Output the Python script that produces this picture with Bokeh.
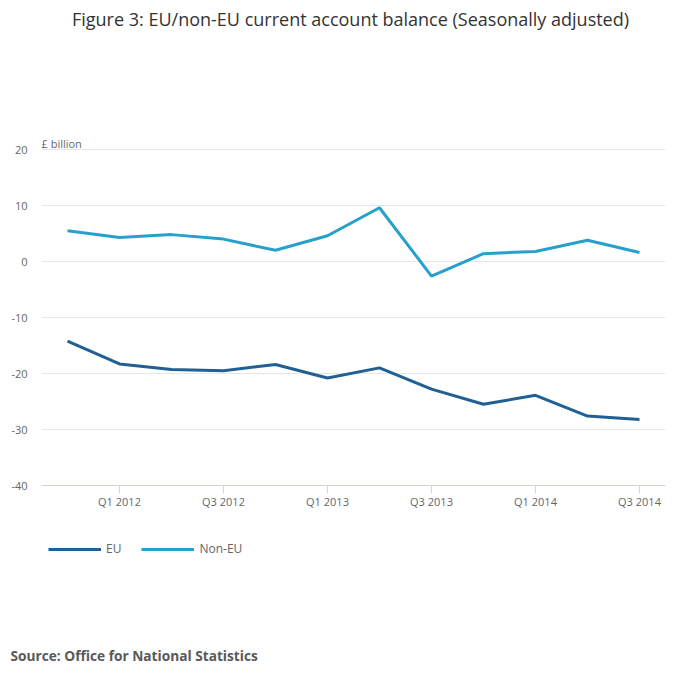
from bokeh.plotting import figure
from bokeh.models import FixedTicker, Label, Legend, LegendItem, Range1d
from bokeh.layouts import column
from bokeh.embed import file_html
from bokeh.resources import INLINE

quarters = ["Q4 2011", "Q1 2012", "Q2 2012", "Q3 2012", "Q4 2012", "Q1 2013",
            "Q2 2013", "Q3 2013", "Q4 2013", "Q1 2014", "Q2 2014", "Q3 2014"]
eu = [-14.2, -18.3, -19.3, -19.5, -18.4, -20.8, -19.0, -22.8, -25.5, -23.9, -27.6, -28.2]
non_eu = [5.5, 4.3, 4.8, 4.0, 2.0, 4.6, 9.6, -2.6, 1.4, 1.8, 3.8, 1.6]
y_ticks = [-40, -30, -20, -10, 0, 10, 20]
x_tick_idx = [1, 3, 5, 7, 9, 11]

title_text = "Figure 3: EU/non-EU current account balance (Seasonally adjusted)"
unit_text = "£ billion"
source_text = "Source: Office for National Statistics"

FONT = "Open Sans"
x = list(range(len(quarters)))

W = 684
H1 = 515
H2 = 151
BOT1 = 30
FRAME_H = H1 - BOT1
PX_PER_UNIT = 5.6
Y_MIN = -40
Y_MAX = Y_MIN + FRAME_H / PX_PER_UNIT
LEFT = 41
RIGHT = 19
X_MIN, X_MAX = -0.5, len(quarters) - 0.5
PX_PER_X = (W - LEFT - RIGHT) / (X_MAX - X_MIN)
TITLE_CX = 350


def no_align(fig):
    try:
        fig.frame_align = False
    except Exception:
        pass


p = figure(width=W, height=H1, output_backend="svg", toolbar_location=None, title=None,
           x_range=Range1d(X_MIN, X_MAX), y_range=Range1d(Y_MIN, Y_MAX),
           min_border_left=LEFT, min_border_right=RIGHT, min_border_top=0,
           min_border_bottom=BOT1)
p.outline_line_color = None
no_align(p)
if p.title is not None:
    p.title.text = ""
    p.title.standoff = 0
    p.title.visible = False

r_eu = p.line(x, eu, line_color="#206095", line_width=3)
r_non = p.line(x, non_eu, line_color="#27a0cc", line_width=3)

p.xgrid.grid_line_color = None
p.ygrid.grid_line_color = "#e6e6e6"
p.ygrid.ticker = FixedTicker(ticks=y_ticks)

p.yaxis.ticker = FixedTicker(ticks=y_ticks)
p.yaxis.major_label_overrides = {t: str(t) for t in y_ticks}
p.yaxis.axis_line_color = None
p.yaxis.major_tick_line_color = None
p.yaxis.minor_tick_line_color = None
p.yaxis.major_label_standoff = 8
p.yaxis.major_label_text_font = FONT
p.yaxis.major_label_text_font_size = "11px"
p.yaxis.major_label_text_color = "#666666"

p.xaxis.ticker = FixedTicker(ticks=x_tick_idx)
p.xaxis.major_label_overrides = {i: quarters[i] for i in x_tick_idx}
p.xaxis.axis_line_color = "#ccd6eb"
p.xaxis.major_tick_line_color = "#ccd6eb"
p.xaxis.major_tick_in = 0
p.xaxis.major_tick_out = 8
p.xaxis.minor_tick_line_color = None
p.xaxis.major_label_standoff = 0
p.xaxis.major_label_text_font = FONT
p.xaxis.major_label_text_font_size = "11px"
p.xaxis.major_label_text_color = "#666666"

# title: centred on the page, 18px from the top
title_x = X_MIN + (TITLE_CX - LEFT) / PX_PER_X
title_y = Y_MAX - 18 / PX_PER_UNIT
p.add_layout(Label(x=title_x, y=title_y, text=title_text, text_font=FONT,
                   text_font_size="18px", text_color="#333333",
                   text_align="center", text_baseline="middle"))
p.add_layout(Label(x=X_MIN, y=y_ticks[-1], y_offset=6, text=unit_text,
                   text_font=FONT, text_font_size="11px", text_color="#666666",
                   text_baseline="alphabetic", text_align="left"))

# lower panel: legend and source
p2 = figure(width=W, height=H2, output_backend="svg", toolbar_location=None, title=None,
            x_range=Range1d(0, W), y_range=Range1d(0, H2),
            x_axis_location=None, y_axis_location=None,
            min_border_left=0, min_border_right=0, min_border_top=0, min_border_bottom=0)
p2.outline_line_color = None
p2.grid.visible = False
no_align(p2)
if p2.title is not None:
    p2.title.text = ""
    p2.title.standoff = 0
    p2.title.visible = False
p2.extra_y_ranges = {"hidden": Range1d(1000, 1001)}
k_eu = p2.line(x, eu, line_color="#206095", line_width=3, y_range_name="hidden")
k_non = p2.line(x, non_eu, line_color="#27a0cc", line_width=3, y_range_name="hidden")

legend = Legend(items=[LegendItem(label="EU", renderers=[k_eu]),
                       LegendItem(label="Non-EU", renderers=[k_non])],
                location=(48, H2 - 42), orientation="horizontal")
legend.border_line_color = None
legend.background_fill_alpha = 0
legend.padding = 0
legend.margin = 0
legend.spacing = 20
legend.glyph_width = 53
legend.glyph_height = 16
legend.label_height = 16
legend.label_width = 0
legend.label_standoff = 5
legend.label_text_font = FONT
legend.label_text_font_size = "12px"
legend.label_text_color = "#666666"
p2.add_layout(legend, "center")

p2.add_layout(Label(x=10, y=H2 - 140, text=source_text, text_font=FONT,
                    text_font_size="13.7px", text_font_style="bold", text_color="#595959",
                    text_align="left", text_baseline="middle"))

layout = column(p, p2, spacing=0)
open("out.html", "w").write(file_html(layout, INLINE))
